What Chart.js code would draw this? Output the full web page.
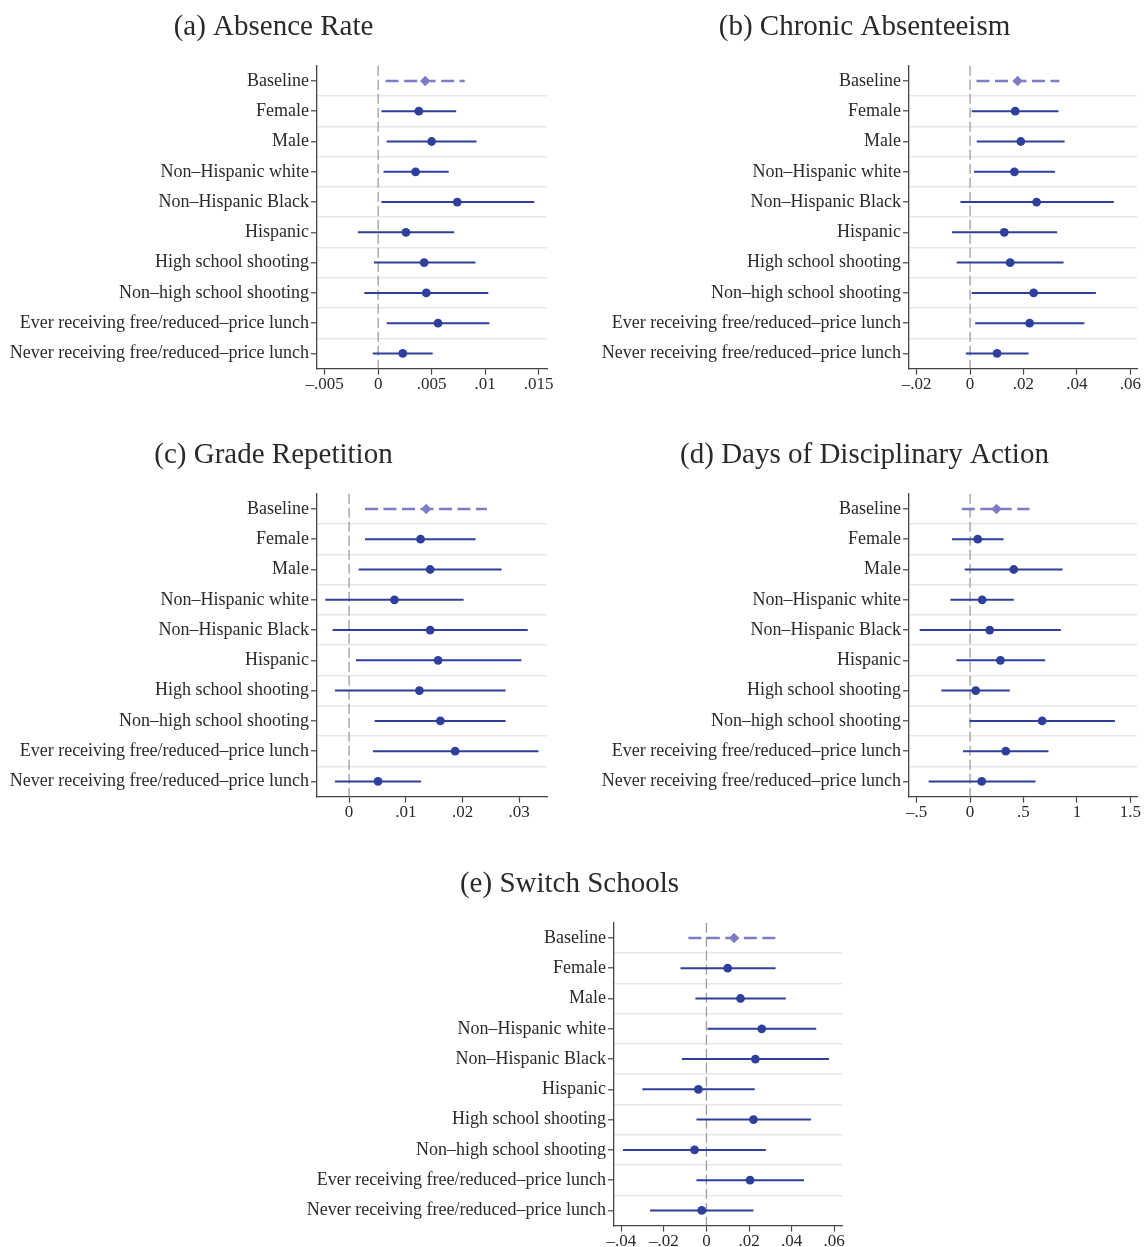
<!DOCTYPE html>
<html>
<head>
<meta charset="utf-8">
<script src="https://cdn.jsdelivr.net/npm/chart.js@4/dist/chart.umd.min.js"></script>
<style>
  html, body { margin: 0; padding: 0; background: #ffffff; }
  body { width: 1145px; height: 1247px; position: relative; overflow: hidden; }
  .panel { position: absolute; }
</style>
</head>
<body>
<div class="panel" id="pa" style="left:0px;top:0px;"><canvas id="ca" width="560" height="410"></canvas></div>
<div class="panel" id="pb" style="left:592px;top:0px;"><canvas id="cb" width="553" height="410"></canvas></div>
<div class="panel" id="pc" style="left:0px;top:428px;"><canvas id="cc" width="560" height="410"></canvas></div>
<div class="panel" id="pd" style="left:592px;top:428px;"><canvas id="cd" width="553" height="410"></canvas></div>
<div class="panel" id="pe" style="left:297px;top:857px;"><canvas id="ce" width="560" height="390"></canvas></div>
<script>
// ---------------- DATA ----------------
const categories = [
  'Baseline',
  'Female',
  'Male',
  'Non\u2013Hispanic white',
  'Non\u2013Hispanic Black',
  'Hispanic',
  'High school shooting',
  'Non\u2013high school shooting',
  'Ever receiving free/reduced\u2013price lunch',
  'Never receiving free/reduced\u2013price lunch'
];

const panelTitles = ['(a) Absence Rate', '(b) Chronic Absenteeism', '(c) Grade Repetition',
                     '(d) Days of Disciplinary Action', '(e) Switch Schools'];

// (a) Absence Rate
const absenceEst = [0.0044, 0.0038, 0.0050, 0.0035, 0.0074, 0.0026, 0.0043, 0.0045, 0.0056, 0.0023];
const absenceLo  = [0.0007, 0.0003, 0.0008, 0.0005, 0.0003, -0.0019, -0.0004, -0.0013, 0.0008, -0.0005];
const absenceHi  = [0.0081, 0.0073, 0.0092, 0.0066, 0.0146, 0.0071, 0.0091, 0.0103, 0.0104, 0.0051];
const absenceTicks = [-0.005, 0, 0.005, 0.01, 0.015];
const absenceTickLabels = ['\u2013.005', '0', '.005', '.01', '.015'];

// (b) Chronic Absenteeism
const chronicEst = [0.0178, 0.0169, 0.0190, 0.0166, 0.0249, 0.0128, 0.0150, 0.0238, 0.0223, 0.0101];
const chronicLo  = [0.0024, 0.0006, 0.0025, 0.0015, -0.0036, -0.0068, -0.0050, 0.0006, 0.0019, -0.0016];
const chronicHi  = [0.0334, 0.0331, 0.0354, 0.0318, 0.0538, 0.0326, 0.0350, 0.0471, 0.0428, 0.0219];
const chronicTicks = [-0.02, 0, 0.02, 0.04, 0.06];
const chronicTickLabels = ['\u2013.02', '0', '.02', '.04', '.06'];

// (c) Grade Repetition
const gradeEst = [0.0136, 0.0126, 0.0143, 0.0080, 0.0143, 0.0157, 0.0124, 0.0161, 0.0187, 0.0051];
const gradeLo  = [0.0028, 0.0028, 0.0017, -0.0042, -0.0029, 0.0012, -0.0025, 0.0045, 0.0042, -0.0025];
const gradeHi  = [0.0243, 0.0223, 0.0269, 0.0202, 0.0315, 0.0304, 0.0276, 0.0276, 0.0334, 0.0127];
const gradeTicks = [0, 0.01, 0.02, 0.03];
const gradeTickLabels = ['0', '.01', '.02', '.03'];

// (d) Days of Disciplinary Action
const disciplineEst = [0.247, 0.072, 0.409, 0.113, 0.184, 0.284, 0.053, 0.675, 0.334, 0.109];
const disciplineLo  = [-0.078, -0.169, -0.050, -0.184, -0.472, -0.128, -0.269, -0.006, -0.066, -0.388];
const disciplineHi  = [0.556, 0.313, 0.866, 0.409, 0.850, 0.703, 0.372, 1.356, 0.734, 0.613];
const disciplineTicks = [-0.5, 0, 0.5, 1, 1.5];
const disciplineTickLabels = ['\u2013.5', '0', '.5', '1', '1.5'];

// (e) Switch Schools
const switchEst = [0.0130, 0.0100, 0.0160, 0.0260, 0.0230, -0.0038, 0.0221, -0.0056, 0.0205, -0.0022];
const switchLo  = [-0.0085, -0.0122, -0.0052, 0.0005, -0.0115, -0.0301, -0.0047, -0.0392, -0.0047, -0.0265];
const switchHi  = [0.0344, 0.0325, 0.0373, 0.0516, 0.0576, 0.0227, 0.0491, 0.0279, 0.0458, 0.0221];
const switchTicks = [-0.04, -0.02, 0, 0.02, 0.04, 0.06];
const switchTickLabels = ['\u2013.04', '\u2013.02', '0', '.02', '.04', '.06'];

// ---------------- STYLE / LAYOUT ----------------
const FONT = "'Liberation Serif', 'Times New Roman', serif";
const C_MAIN = '#2f3f9c';
const C_BASE = '#7d7dc6';
const C_ZERO = '#9c9c9c';
const C_GRID = '#e7e7e7';
const C_AXIS = '#444444';
const C_TEXT = '#2a2a2a';

const PLOT_TOP = 65.8;      // chart-area top relative to canvas
const PLOT_BOTTOM = 368.6;  // chart-area bottom relative to canvas
const YAXIS_W = 317;
const TITLE_SIZE = 29;
const TITLE_PAD_TOP = 9.5;

const panels = [
  { canvas: 'ca', title: panelTitles[0], est: absenceEst, lo: absenceLo, hi: absenceHi,
    ticks: absenceTicks, tickLabels: absenceTickLabels, min: -0.00572, max: 0.01579, padRight: 13, h: 410 },
  { canvas: 'cb', title: panelTitles[1], est: chronicEst, lo: chronicLo, hi: chronicHi,
    ticks: chronicTicks, tickLabels: chronicTickLabels, min: -0.02287, max: 0.0625, padRight: 8, h: 410 },
  { canvas: 'cc', title: panelTitles[2], est: gradeEst, lo: gradeLo, hi: gradeHi,
    ticks: gradeTicks, tickLabels: gradeTickLabels, min: -0.00566, max: 0.0349, padRight: 13, h: 410 },
  { canvas: 'cd', title: panelTitles[3], est: disciplineEst, lo: disciplineLo, hi: disciplineHi,
    ticks: disciplineTicks, tickLabels: disciplineTickLabels, min: -0.572, max: 1.563, padRight: 8, h: 410 },
  { canvas: 'ce', title: panelTitles[4], est: switchEst, lo: switchLo, hi: switchHi,
    ticks: switchTicks, tickLabels: switchTickLabels, min: -0.04344, max: 0.0637, padRight: 15, h: 390 }
];

panels.forEach(p => {
  const n = categories.length;
  const datasets = [];
  // zero reference line
  datasets.push({
    data: [{ x: 0, y: -0.5 }, { x: 0, y: n - 0.5 }],
    showLine: true, borderColor: C_ZERO, borderWidth: 1.3, borderDash: [10, 4],
    pointRadius: 0, order: 5
  });
  // confidence intervals
  for (let i = 0; i < n; i++) {
    const isBase = i === 0;
    datasets.push({
      data: [{ x: p.lo[i], y: i }, { x: p.hi[i], y: i }],
      showLine: true,
      borderColor: isBase ? C_BASE : C_MAIN,
      borderWidth: isBase ? 2.6 : 2,
      borderDash: isBase ? [13, 5.5] : [],
      borderCapStyle: 'butt',
      pointRadius: 0, order: 2
    });
  }
  // baseline point estimate (diamond)
  datasets.push({
    data: [{ x: p.est[0], y: 0 }],
    pointStyle: 'rectRot', pointRadius: 5.2,
    backgroundColor: C_BASE, borderColor: C_BASE, borderWidth: 0, order: 0
  });
  // subgroup point estimates
  datasets.push({
    data: p.est.slice(1).map((v, k) => ({ x: v, y: k + 1 })),
    pointStyle: 'circle', pointRadius: 4.4,
    backgroundColor: C_MAIN, borderColor: C_MAIN, borderWidth: 0, order: 0
  });

  const xAxisH = p.h - PLOT_BOTTOM;
  const titleLine = TITLE_SIZE * 1.2;
  new Chart(document.getElementById(p.canvas), {
    type: 'scatter',
    data: { datasets },
    options: {
      responsive: false,
      animation: false,
      events: [],
      layout: { padding: { left: 0, right: p.padRight, top: 0, bottom: 0 } },
      plugins: {
        legend: { display: false },
        tooltip: { enabled: false },
        title: {
          display: true, text: p.title, color: C_TEXT,
          font: { family: FONT, size: TITLE_SIZE, weight: 'normal', lineHeight: 1.2 },
          padding: { top: TITLE_PAD_TOP, bottom: PLOT_TOP - TITLE_PAD_TOP - titleLine }
        }
      },
      scales: {
        x: {
          type: 'linear', min: p.min, max: p.max,
          afterBuildTicks: (axis) => { axis.ticks = p.ticks.map(v => ({ value: v })); },
          afterFit: (axis) => { axis.height = xAxisH; },
          ticks: {
            autoSkip: false, maxRotation: 0, padding: 0, color: C_TEXT,
            font: { family: FONT, size: 17 },
            callback: (v, idx) => p.tickLabels[idx]
          },
          grid: { drawOnChartArea: false, drawTicks: true, tickLength: 6, tickColor: C_AXIS, tickWidth: 1.2 },
          border: { display: true, color: C_AXIS, width: 1.3 }
        },
        y: {
          type: 'linear', reverse: true, min: -0.5, max: n - 0.5,
          afterBuildTicks: (axis) => {
            const t = [];
            for (let k = 0; k <= 2 * n; k++) t.push({ value: -0.5 + k * 0.5 });
            axis.ticks = t;
          },
          afterFit: (axis) => { axis.width = YAXIS_W; },
          ticks: {
            autoSkip: false, padding: 2, color: C_TEXT,
            font: { family: FONT, size: 18 },
            callback: (v) => (Number.isInteger(v) ? categories[v] : '')
          },
          grid: {
            drawTicks: true, tickLength: 6, tickWidth: 1.2,
            lineWidth: 1.6,
            color: (ctx) => {
              const v = ctx.tick ? ctx.tick.value : 0;
              return (!Number.isInteger(v) && v > -0.5 && v < n - 0.5) ? C_GRID : 'rgba(0,0,0,0)';
            },
            tickColor: (ctx) => {
              const v = ctx.tick ? ctx.tick.value : 0.5;
              return Number.isInteger(v) ? C_AXIS : 'rgba(0,0,0,0)';
            }
          },
          border: { display: true, color: C_AXIS, width: 1.3 }
        }
      }
    }
  });
});
</script>
</body>
</html>
